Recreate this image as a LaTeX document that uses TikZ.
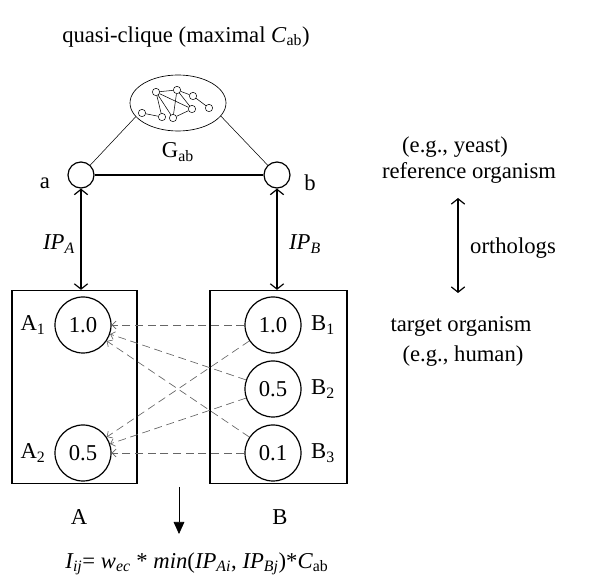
\documentclass[tikz,border=0pt]{standalone}
\usepackage{fontspec}
\setmainfont{Liberation Serif}
\usetikzlibrary{arrows.meta, shapes.geometric}
\tikzset{
bigtext/.style={font=\fontsize{17}{20}\selectfont},
}

\begin{document}
\begin{tikzpicture}[x=0.75pt, y=-0.75pt]
		\tikzset{pnode/.style = {shape=circle, draw, line width=0.4pt, inner sep=0pt, minimum size=5.5pt, fill=white}}
		\tikzset{pedge/.style = {line width=0.4pt}}
		\tikzset{gene/.style = {shape=circle, draw, line width=0.9pt, inner sep=0pt, minimum size=42pt, bigtext}}
		\tikzset{prot/.style = {shape=circle, draw, line width=0.9pt, inner sep=0pt, minimum size=19.5pt}}
		\tikzset{organism/.style = {draw, line width=0.9pt, inner sep=0pt, minimum height=144.75pt}}
		\tikzset{lbl/.style = {bigtext, inner sep=0pt}}
		\tikzset{ortho/.style = {dashed, dash pattern=on 6pt off 3.5pt, gray!80!black, line width=0.5pt, -{Straight Barb[length=3pt,width=6pt]}}}
		\tikzset{ipline/.style = {line width=0.9pt, {Straight Barb[length=4pt,width=10pt]}-{Straight Barb[length=4pt,width=10pt]}}}

		\useasboundingbox (0,0) rectangle (600,584);

		\node[lbl] (title) at (186,37) {quasi-clique (maximal \textit{C}\textsubscript{ab})};

		\node[draw, ellipse, line width=0.5pt, minimum width=72pt, minimum height=42pt] (ell) at (178,103) {};
		\node[pnode] (n1) at (156,92) {};
		\node[pnode] (n2) at (177,90) {};
		\node[pnode] (n3) at (193,96) {};
		\node[pnode] (n4) at (209,108) {};
		\node[pnode] (n5) at (192,109) {};
		\node[pnode] (n6) at (173,118) {};
		\node[pnode] (n7) at (162,117) {};
		\node[pnode] (n8) at (142,113) {};

		\draw[pedge] (n1) -- (n2);
		\draw[pedge] (n2) -- (n3);
		\draw[pedge] (n3) -- (n4);
		\draw[pedge] (n1) -- (n7);
		\draw[pedge] (n1) -- (n6);
		\draw[pedge] (n1) -- (n5);
		\draw[pedge] (n2) -- (n6);
		\draw[pedge] (n2) -- (n5);
		\draw[pedge] (n6) -- (n5);
		\draw[pedge] (n8) -- (n7);

		\node[lbl] (gab) at (178,152) {G\textsubscript{ab}};

		\node[prot] (a) at (81,175) {};
		\node[prot] (b) at (277,175) {};
		\node[lbl] (la) at (45,183) {a};
		\node[lbl] (lb) at (310,183) {b};

		\draw[line width=0.4pt] (ell.198) -- (a);
		\draw[line width=0.4pt] (ell.-17) -- (b);
		\draw[line width=1.7pt] (a) -- (b);

		\node[organism, minimum width=93.75pt] (boxA) at (74.5,387) {};
		\node[organism, minimum width=102.75pt] (boxB) at (278.5,387) {};

		\draw[ipline] (a) -- (a |- boxA.north);
		\draw[ipline] (b) -- (b |- boxB.north);
		\node[lbl] (ipa) at (59,244) {\textit{IP\textsubscript{A}}};
		\node[lbl] (ipb) at (305,244) {\textit{IP\textsubscript{B}}};

		\node[gene] (A1) at (83,325) {1.0};
		\node[gene] (A2) at (83,453) {0.5};
		\node[gene] (B1) at (273,325) {1.0};
		\node[gene] (B2) at (273,389) {0.5};
		\node[gene] (B3) at (273,453) {0.1};

		\node[lbl] (la1) at (33,325) {A\textsubscript{1}};
		\node[lbl] (la2) at (33,453) {A\textsubscript{2}};
		\node[lbl] (lb1) at (323,325) {B\textsubscript{1}};
		\node[lbl] (lb2) at (323,389) {B\textsubscript{2}};
		\node[lbl] (lb3) at (323,453) {B\textsubscript{3}};

		\draw[ortho] (B1) -- (A1);
		\draw[ortho] (B2) -- (A1);
		\draw[ortho] (B3) -- (A1);
		\draw[ortho] (B1) -- (A2);
		\draw[ortho] (B2) -- (A2);
		\draw[ortho] (B3) -- (A2);

		\node[lbl] (lA) at (79,517) {A};
		\node[lbl] (lB) at (280,517) {B};

		\coordinate (dtop) at (179,487);
		\coordinate (dbot) at (179,534);
		\draw[line width=0.5pt, -{Triangle[length=9pt,width=8pt]}] (dtop) -- (dbot);

		\node[lbl] (score) at (197,564) {\textit{I\textsubscript{ij}}= \textit{w\textsubscript{ec}} * \textit{min}(\textit{IP\textsubscript{Ai}}, \textit{IP\textsubscript{Bj}})*\textit{C}\textsubscript{ab}};

		\node[lbl] (refa) at (455,147) {(e.g., yeast)};
		\node[lbl] (refb) at (469,173) {reference organism};
		\node[lbl] (tgta) at (461,326) {target organism};
		\node[lbl] (tgtb) at (463,356) {(e.g., human)};
		\coordinate (otop) at (458,198);
		\coordinate (obot) at (458,293);
		\draw[ipline] (otop) -- (obot);
		\node[lbl] (orth) at (513,248) {orthologs};

	\end{tikzpicture}
\end{document}
